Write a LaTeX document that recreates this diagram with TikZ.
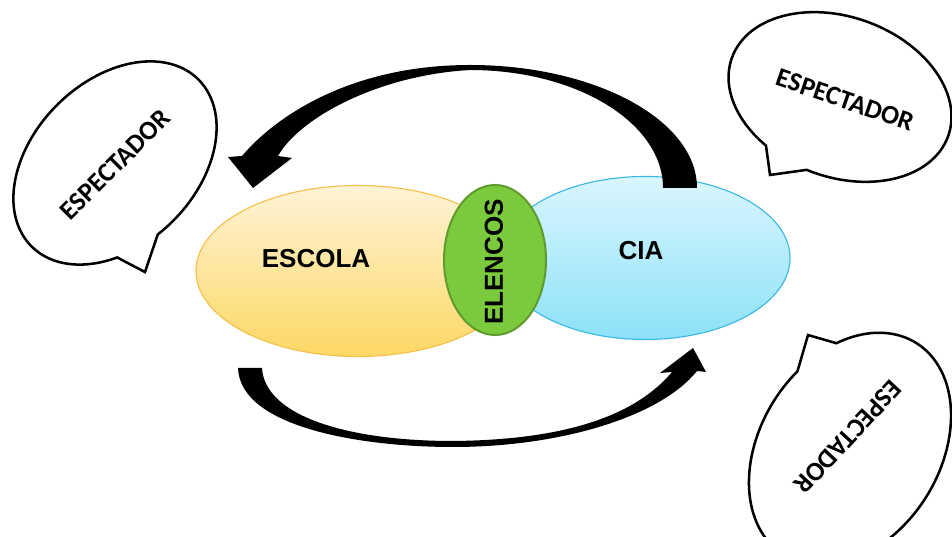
\documentclass[tikz,border=0pt]{standalone}
\usepackage{fontspec}
\setmainfont{Liberation Sans}
\newfontfamily\bubblefont{Carlito}
\usetikzlibrary{shapes.geometric}
\definecolor{escolatop}{HTML}{FEF3D6}
\definecolor{escolabot}{HTML}{FDD865}
\definecolor{escolaline}{HTML}{F4C04A}
\definecolor{ciatop}{HTML}{DAF6FE}
\definecolor{ciabot}{HTML}{8CE1F8}
\definecolor{cialine}{HTML}{3AB8E3}
\definecolor{elencosfill}{HTML}{7BC93C}
\definecolor{elencosline}{HTML}{5E9A2E}
\begin{document}
\begin{tikzpicture}[
    x=0.025cm, y=0.025cm,
    bubble/.style={draw=black, line width=1.8pt, fill=white},
    bubbletext/.style={inner sep=0pt, font=\bubblefont\bfseries\fontsize{19}{21}\selectfont},
    blobtext/.style={inner sep=0pt, font=\bfseries\fontsize{18.5}{20}\selectfont},
    blob/.style={ellipse, inner sep=0pt},
    swoosh/.style={fill=black}
]
    \useasboundingbox (0,0) rectangle (952,537);
    \clip (0,0) rectangle (952,537);

    % Speech bubbles
    \begin{scope}[shift={(115,374)}, rotate=45]
        \draw[bubble] (260.1:118 and 82) arc[start angle=260.1, end angle=596.4, x radius=118, y radius=82]
            -- (-55.9,-98.3) -- cycle;
    \end{scope}
    \begin{scope}[shift={(840,440)}, rotate=-20]
        \draw[bubble] (266.8:115 and 80) arc[start angle=266.8, end angle=602.6, x radius=115, y radius=80]
            -- (-39.1,-97.2) -- cycle;
    \end{scope}
    \begin{scope}[shift={(850,88)}, rotate=58]
        \draw[bubble] (72.3:125 and 90) arc[start angle=72.3, end angle=408.7, x radius=125, y radius=90]
            -- (74.4,96.0) -- cycle;
    \end{scope}
    \node[bubbletext, rotate=45] (esp1) at (115,372) {ESPECTADOR};
    \node[bubbletext, rotate=-19] (esp2) at (845,437) {ESPECTADOR};
    \node[bubbletext, rotate=-133] (esp3) at (848,100) {ESPECTADOR};

    % Escola, Cia and Elencos
    \node[blob, draw=escolaline, line width=0.8pt, top color=escolatop, bottom color=escolabot,
        minimum width=8.1cm, minimum height=4.275cm] (escola) at (358,266) {};
    \node[blob, draw=cialine, line width=0.8pt, top color=ciatop, bottom color=ciabot,
        minimum width=7.25cm, minimum height=4.075cm] (cia) at (645,279) {};
    \node[blob, draw=elencosline, line width=1.4pt, fill=elencosfill,
        minimum width=2.55cm, minimum height=3.75cm] (elencos) at (495,277) {};
    \node[blobtext] (escolatxt) at (316,278) {ESCOLA};
    \node[blobtext] (ciatxt) at (641,286) {CIA};
    \node[blobtext, rotate=90] (elencostxt) at (494,275) {ELENCOS};

    % Curved arrows
    \fill[swoosh] (697,349) .. controls (697,417) and (595,472) .. (470,472)
        .. controls (350,472) and (275,420) .. (242,381)
        -- (228,380) -- (253,349) -- (292,379) -- (278,381)
        .. controls (300,420) and (380,462) .. (470,467)
        .. controls (577,467) and (663,414) .. (663,349) -- cycle;
    \fill[swoosh] (238,169) .. controls (240,110) and (360,90) .. (453,90)
        .. controls (560,90) and (660,120) .. (697,166)
        -- (706,165) -- (693,189) -- (660,164) -- (672,165)
        .. controls (630,115) and (550,97) .. (453,96)
        .. controls (350,96) and (265,120) .. (262,169) -- cycle;
\end{tikzpicture}
\end{document}
